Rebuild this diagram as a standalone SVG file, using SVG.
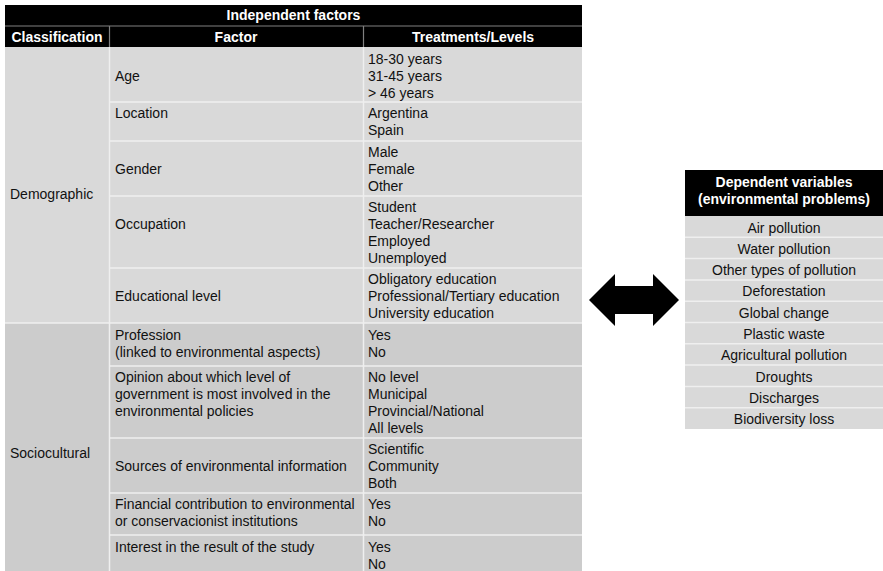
<svg xmlns="http://www.w3.org/2000/svg" width="883" height="571" viewBox="0 0 883 571">
<style>
  text { font-family: "Liberation Sans", Arial, sans-serif; font-size: 14px; fill: #111; }
  .hd { fill: #fff; font-weight: bold; }
  .c { text-anchor: middle; }
  .hsep { stroke: #808080; stroke-width: 1.2; }
  .sep { stroke: #efefef; stroke-width: 1.5; }
  .demo { fill: #d9d9d9; }
  .soc { fill: #cccccc; }
  .blk { fill: #000; }
</style>
<rect width="883" height="571" fill="#fff"/>
<g id="independent-factors">
  <rect class="blk" x="5" y="5" width="577" height="42"/>
  <line class="hsep" x1="5" y1="26" x2="582" y2="26"/>
  <line class="hsep" x1="109.5" y1="26" x2="109.5" y2="47"/>
  <line class="hsep" x1="363.5" y1="26" x2="363.5" y2="47"/>
  <text class="hd c" x="293.5" y="20">Independent factors</text>
  <text class="hd c" x="57" y="42">Classification</text>
  <text class="hd c" x="236" y="42">Factor</text>
  <text class="hd c" x="473" y="42">Treatments/Levels</text>

  <rect class="demo" x="5" y="47" width="577" height="276"/>
  <rect class="soc" x="5" y="323" width="577" height="248"/>
  <line class="sep" x1="109.5" y1="47" x2="109.5" y2="571"/>
  <line class="sep" x1="363.5" y1="47" x2="363.5" y2="571"/>
  <line class="sep" x1="109" y1="102" x2="582" y2="102"/>
  <line class="sep" x1="109" y1="141" x2="582" y2="141"/>
  <line class="sep" x1="109" y1="196" x2="582" y2="196"/>
  <line class="sep" x1="109" y1="268" x2="582" y2="268"/>
  <line class="sep" x1="5" y1="323" x2="582" y2="323"/>
  <line class="sep" x1="109" y1="366" x2="582" y2="366"/>
  <line class="sep" x1="109" y1="438" x2="582" y2="438"/>
  <line class="sep" x1="109" y1="493" x2="582" y2="493"/>
  <line class="sep" x1="109" y1="535" x2="582" y2="535"/>

  <text x="10" y="199">Demographic</text>
  <text x="10" y="458">Sociocultural</text>

  <text x="115" y="81">Age</text>
  <text x="368" y="64">18-30 years</text>
  <text x="368" y="81">31-45 years</text>
  <text x="368" y="98">&gt; 46 years</text>

  <text x="115" y="118">Location</text>
  <text x="368" y="118">Argentina</text>
  <text x="368" y="135">Spain</text>

  <text x="115" y="174">Gender</text>
  <text x="368" y="157">Male</text>
  <text x="368" y="174">Female</text>
  <text x="368" y="191">Other</text>

  <text x="115" y="229">Occupation</text>
  <text x="368" y="212">Student</text>
  <text x="368" y="229">Teacher/Researcher</text>
  <text x="368" y="246">Employed</text>
  <text x="368" y="263">Unemployed</text>

  <text x="115" y="301">Educational level</text>
  <text x="368" y="284">Obligatory education</text>
  <text x="368" y="301">Professional/Tertiary education</text>
  <text x="368" y="318">University education</text>

  <text x="115" y="340">Profession</text>
  <text x="115" y="357">(linked to environmental aspects)</text>
  <text x="368" y="340">Yes</text>
  <text x="368" y="357">No</text>

  <text x="115" y="382">Opinion about which level of</text>
  <text x="115" y="399">government is most involved in the</text>
  <text x="115" y="416">environmental policies</text>
  <text x="368" y="382">No level</text>
  <text x="368" y="399">Municipal</text>
  <text x="368" y="416">Provincial/National</text>
  <text x="368" y="433">All levels</text>

  <text x="115" y="471">Sources of environmental information</text>
  <text x="368" y="454">Scientific</text>
  <text x="368" y="471">Community</text>
  <text x="368" y="488">Both</text>

  <text x="115" y="509">Financial contribution to environmental</text>
  <text x="115" y="526">or conservacionist institutions</text>
  <text x="368" y="509">Yes</text>
  <text x="368" y="526">No</text>

  <text x="115" y="552">Interest in the result of the study</text>
  <text x="368" y="552">Yes</text>
  <text x="368" y="569">No</text>
</g>
<g id="connectors">
  <polygon class="blk" points="589,300 615,274 615,286 653,286 653,274 679,300 653,326 653,314 615,314 615,326"/>
</g>
<g id="dependent-variables">
  <rect class="blk" x="685" y="170" width="198" height="46"/>
  <text class="hd c" x="784" y="187">Dependent variables</text>
  <text class="hd c" x="784" y="204">(environmental problems)</text>
  <rect class="demo" x="685" y="216" width="198" height="213"/>
  <line class="sep" x1="685" y1="237.3" x2="883" y2="237.3"/>
  <line class="sep" x1="685" y1="258.6" x2="883" y2="258.6"/>
  <line class="sep" x1="685" y1="279.9" x2="883" y2="279.9"/>
  <line class="sep" x1="685" y1="301.2" x2="883" y2="301.2"/>
  <line class="sep" x1="685" y1="322.5" x2="883" y2="322.5"/>
  <line class="sep" x1="685" y1="343.8" x2="883" y2="343.8"/>
  <line class="sep" x1="685" y1="365.1" x2="883" y2="365.1"/>
  <line class="sep" x1="685" y1="386.4" x2="883" y2="386.4"/>
  <line class="sep" x1="685" y1="407.7" x2="883" y2="407.7"/>
  <text class="c" x="784" y="232.5">Air pollution</text>
  <text class="c" x="784" y="253.8">Water pollution</text>
  <text class="c" x="784" y="275.1">Other types of pollution</text>
  <text class="c" x="784" y="296.4">Deforestation</text>
  <text class="c" x="784" y="317.7">Global change</text>
  <text class="c" x="784" y="339">Plastic waste</text>
  <text class="c" x="784" y="360.3">Agricultural pollution</text>
  <text class="c" x="784" y="381.6">Droughts</text>
  <text class="c" x="784" y="402.9">Discharges</text>
  <text class="c" x="784" y="424.2">Biodiversity loss</text>
</g>
</svg>
